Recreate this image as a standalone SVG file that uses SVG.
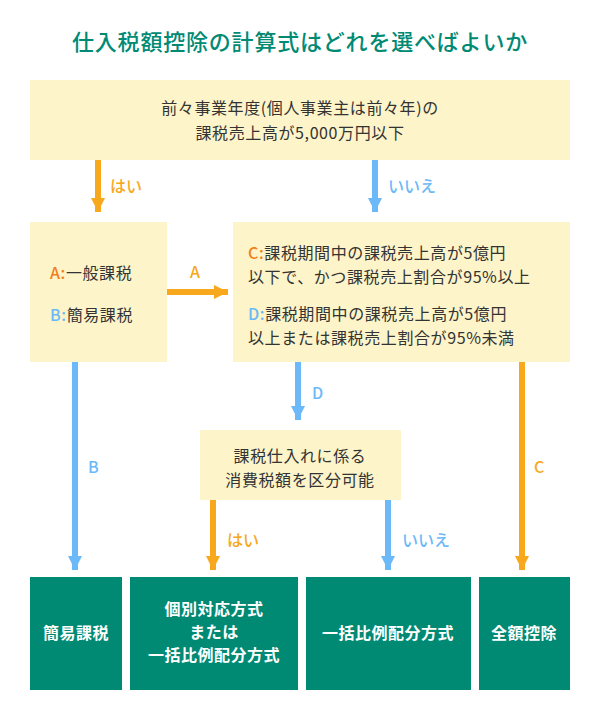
<svg xmlns="http://www.w3.org/2000/svg" width="600" height="707" viewBox="0 0 600 707">
<style>
text{font-family:"Noto Sans CJK JP","Noto Sans",sans-serif;}
.t{font-size:16px;fill:#333;letter-spacing:0.6px;}
.y{fill:#fdf4c9;}
.g{fill:#008a74;}
.w{font-size:16px;fill:#fff;font-weight:bold;text-anchor:middle;letter-spacing:0.5px;}
.o{stroke:#f7a81c;stroke-width:6;fill:none;}
.b{stroke:#6bb9f8;stroke-width:6;fill:none;}
.lo{fill:#f7a81c;font-size:16px;font-weight:500;}
.lb{fill:#6bb9f8;font-size:16px;font-weight:500;}
</style>
<defs>
<marker id="mo" markerUnits="userSpaceOnUse" markerWidth="16" markerHeight="14" refX="14" refY="7" orient="auto"><path d="M0,0L14,7L0,14Z" fill="#f7a81c"/></marker>
<marker id="mb" markerUnits="userSpaceOnUse" markerWidth="16" markerHeight="14" refX="14" refY="7" orient="auto"><path d="M0,0L14,7L0,14Z" fill="#6bb9f8"/></marker>
</defs>
<text x="300" y="50" text-anchor="middle" font-size="22" fill="#008a74" font-weight="500" letter-spacing="0.8">仕入税額控除の計算式はどれを選べばよいか</text>
<g id="connectors">
<path class="o" d="M98,160V212" marker-end="url(#mo)"/><text class="lo" x="110" y="192">はい</text>
<path class="b" d="M375,160V212" marker-end="url(#mb)"/><text class="lb" x="388" y="192">いいえ</text>
<path class="o" d="M167,292H228" marker-end="url(#mo)"/><text class="lo" x="190" y="278">A</text>
<path class="b" d="M298,362V420" marker-end="url(#mb)"/><text class="lb" x="312" y="399">D</text>
<path class="b" d="M75,362V570" marker-end="url(#mb)"/><text class="lb" x="88" y="473">B</text>
<path class="o" d="M522,362V570" marker-end="url(#mo)"/><text class="lo" x="534" y="473">C</text>
<path class="o" d="M213,500V570" marker-end="url(#mo)"/><text class="lo" x="227" y="546">はい</text>
<path class="b" d="M388,500V570" marker-end="url(#mb)"/><text class="lb" x="402" y="546">いいえ</text>
</g>
<g id="top"><rect class="y" x="30" y="80" width="540" height="80"/>
<text class="t" x="300" y="114" text-anchor="middle">前々事業年度(個人事業主は前々年)の</text>
<text class="t" x="300" y="139" text-anchor="middle">課税売上高が5,000万円以下</text></g>
<g id="left"><rect class="y" x="30" y="222" width="137" height="140"/>
<text class="t" x="50" y="279"><tspan fill="#f08019" font-weight="500">A:</tspan>一般課税</text>
<text class="t" x="50" y="321"><tspan fill="#6bb9f8" font-weight="500">B:</tspan>簡易課税</text></g>
<g id="right"><rect class="y" x="233" y="222" width="337" height="140"/>
<text class="t" x="248" y="259"><tspan fill="#f08019" font-weight="500">C:</tspan>課税期間中の課税売上高が5億円</text>
<text class="t" x="248" y="283">以下で、かつ課税売上割合が95%以上</text>
<text class="t" x="248" y="320"><tspan fill="#6bb9f8" font-weight="500">D:</tspan>課税期間中の課税売上高が5億円</text>
<text class="t" x="248" y="344">以上または課税売上割合が95%未満</text></g>
<g id="mid"><rect class="y" x="200" y="430" width="201" height="70"/>
<text class="t" x="300" y="462" text-anchor="middle">課税仕入れに係る</text>
<text class="t" x="300" y="486" text-anchor="middle">消費税額を区分可能</text></g>
<g id="r1"><rect class="g" x="30" y="577" width="92" height="113"/><text class="w" x="76" y="639">簡易課税</text></g>
<g id="r2"><rect class="g" x="130" y="577" width="168" height="113"/>
<text class="w" x="214" y="615">個別対応方式</text><text class="w" x="214" y="638">または</text><text class="w" x="214" y="661">一括比例配分方式</text></g>
<g id="r3"><rect class="g" x="306" y="577" width="165" height="113"/><text class="w" x="388" y="639">一括比例配分方式</text></g>
<g id="r4"><rect class="g" x="479" y="577" width="91" height="113"/><text class="w" x="524" y="639">全額控除</text></g>
</svg>
